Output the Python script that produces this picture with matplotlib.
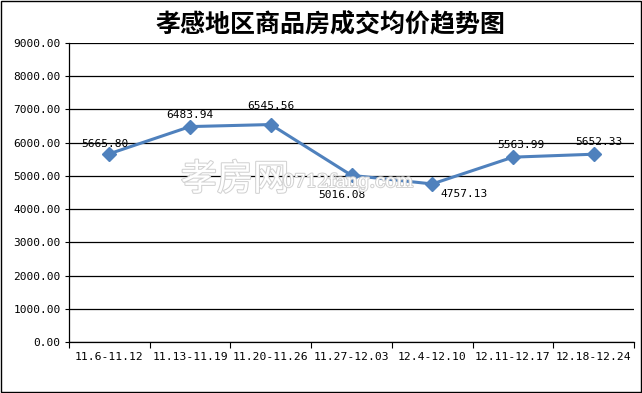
import matplotlib.pyplot as plt
import matplotlib.patheffects as pe
from matplotlib.patches import Rectangle
import numpy as np

plt.rcParams['font.family'] = ['DejaVu Sans Mono', 'Noto Sans CJK SC']

weeks = ["11.6-11.12", "11.13-11.19", "11.20-11.26", "11.27-12.03",
         "12.4-12.10", "12.11-12.17", "12.18-12.24"]
prices = [5665.80, 6483.94, 6545.56, 5016.08, 4757.13, 5563.99, 5652.33]
# label offsets in points (dx, dy)
label_offsets = [(-3, 7), (0, 8), (0, 13), (-7, -14), (23, -7), (6, 8.5), (4, 9)]

fig = plt.figure(figsize=(6.42, 3.93), dpi=100)
ax = fig.add_axes([69 / 642, 1 - 342 / 393, 565 / 642, 299 / 393])

x = np.arange(len(weeks))
ax.plot(x, prices, color="#4F81BD", lw=2.2, marker="D", ms=7, zorder=3)
for xi, v, (dx, dy) in zip(x, prices, label_offsets):
    ax.annotate(f"{v:.2f}", (xi, v), xytext=(dx, dy), textcoords="offset points",
                ha="center", va="center", fontsize=8, zorder=4)

ax.set_xlim(-0.5, len(weeks) - 0.5)
ax.set_ylim(0, 9000)
yt = np.arange(0, 9001, 1000)
ax.set_yticks(yt)
ax.set_yticklabels([f"{t:.2f}" for t in yt], fontsize=8)
ax.set_xticks(np.arange(-0.5, len(weeks), 1))
ax.set_xticklabels([])
ax.set_xticks(x, minor=True)
ax.set_xticklabels(weeks, minor=True, fontsize=8.2)
ax.tick_params(axis="x", which="minor", length=0, pad=7)
ax.tick_params(axis="x", which="major", length=4, direction="out", color="black")
ax.tick_params(axis="y", length=3, direction="out", pad=3)
ax.grid(axis="y", color="black", lw=0.9)
ax.set_axisbelow(True)
for s in ("top", "right"):
    ax.spines[s].set_visible(False)
for s in ("left", "bottom"):
    ax.spines[s].set_linewidth(0.9)

# watermark
wm = [pe.withStroke(linewidth=1.5, foreground="#d2d2d2")]
fig.text(0.366, 0.542, "孝房网", fontsize=26, color="white", ha="center", va="center",
         family=["Noto Sans CJK SC"], zorder=0.5, path_effects=wm)
fig.text(0.542, 0.537, "0712fang.com", fontsize=13, color="white", ha="center", va="center",
         family=["DejaVu Serif"], zorder=0.5, path_effects=wm)

fig.text(0.515, 0.935, "孝感地区商品房成交均价趋势图", fontsize=18, fontweight="bold",
         ha="center", va="center", family=["Noto Sans CJK SC"])

fig.patches.append(Rectangle((0.001, 0.002), 0.997, 0.996, transform=fig.transFigure,
                             fill=False, edgecolor="black", lw=1))

fig.savefig("out.png", dpi=100)
